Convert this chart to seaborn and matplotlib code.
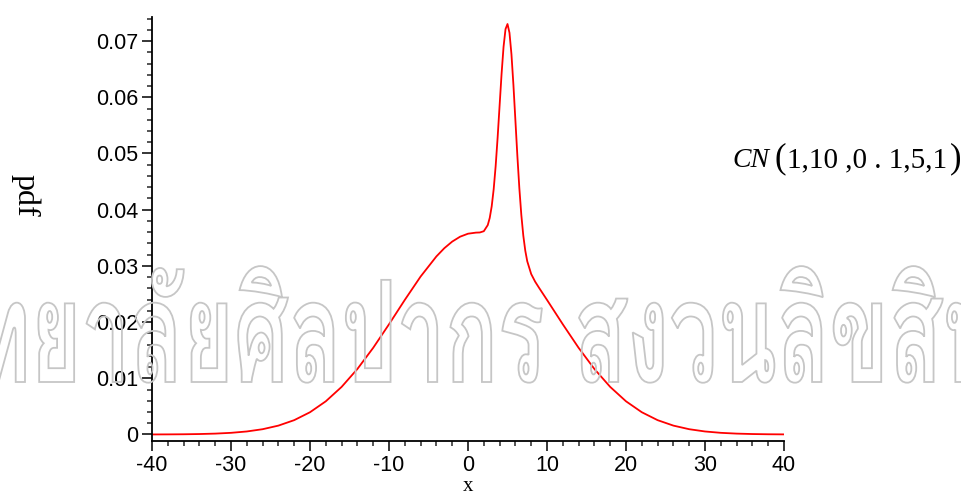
import matplotlib
matplotlib.use("Agg")
import matplotlib.pyplot as plt
import seaborn as sns
from matplotlib import font_manager
from matplotlib.textpath import TextPath
from matplotlib.patches import PathPatch
from matplotlib.transforms import Affine2D
from matplotlib.ticker import MultipleLocator, FuncFormatter

# Density of CN(1,10,0.1,5,1) sampled along x
x_vals = [-40, -38, -36, -34, -32, -30, -28, -26, -24, -22, -20, -18, -16, -14,
          -12, -10, -8, -6, -4, -3, -2, -1, 0, 1, 1.5, 2, 2.5, 2.75, 3, 3.25,
          3.5, 3.75, 4, 4.25, 4.5, 4.75, 5, 5.25, 5.5, 5.75, 6, 6.25, 6.5,
          6.75, 7, 7.25, 7.5, 8, 8.5, 9, 10, 12, 14, 16, 18, 20, 22, 24, 26,
          28, 30, 32, 34, 36, 38, 40]
pdf_vals = [0.000008, 0.000018, 0.000038, 0.000079, 0.000155, 0.000294,
            0.000536, 0.000938, 0.001578, 0.002550, 0.003959, 0.005905,
            0.008465, 0.011657, 0.015423, 0.019607, 0.023948, 0.028103,
            0.031686, 0.033145, 0.034325, 0.035194, 0.035726, 0.035918,
            0.035947, 0.036169, 0.037256, 0.038533, 0.040593, 0.043636,
            0.047752, 0.052838, 0.058522, 0.064172, 0.068979, 0.072134,
            0.073039, 0.071472, 0.067655, 0.062189, 0.055883, 0.049548,
            0.043817, 0.039062, 0.035390, 0.032709, 0.030820, 0.028546,
            0.027190, 0.026085, 0.023948, 0.019607, 0.015423, 0.011657,
            0.008465, 0.005905, 0.003959, 0.002550, 0.001578, 0.000938,
            0.000536, 0.000294, 0.000155, 0.000079, 0.000038, 0.000018]

x_ticks = [-40, -30, -20, -10, 0, 10, 20, 30, 40]
y_ticks = [0, 0.01, 0.02, 0.03, 0.04, 0.05, 0.06, 0.07]

label_text = "CN"
param_text = "1,10 ,0 . 1,5,1"
watermark_text = "ทยาลัยศิลปากร สงวนลิขสิท"

sns.set_style("ticks")
plt.rcParams["font.family"] = ["Liberation Sans", "DejaVu Sans"]
plt.rcParams["text.color"] = "black"

W, H = 962, 497
fig = plt.figure(figsize=(W / 100, H / 100), dpi=100)
ax = fig.add_axes([152 / W, 1 - 441 / H, (784 - 152) / W, (441 - 16.7) / H])

sns.lineplot(x=x_vals, y=pdf_vals, color="#ff0000", linewidth=1.3, ax=ax)

ax.set_xlim(-40, 40)
ax.set_ylim(-0.00116, 0.07434)
ax.set_xticks(x_ticks)
ax.set_yticks(y_ticks)
ax.xaxis.set_minor_locator(MultipleLocator(2))
ax.yaxis.set_minor_locator(MultipleLocator(0.002))
ax.xaxis.set_major_formatter(FuncFormatter(lambda v, p: f"{v:g}"))
ax.yaxis.set_major_formatter(FuncFormatter(lambda v, p: "0" if abs(v) < 1e-9 else f"{v:.2f}"))
ax.tick_params(which="major", length=7, width=1.1, direction="out",
               labelsize=15.5, pad=3, colors="black")
ax.tick_params(which="minor", length=3.5, width=1.1, direction="out")
for side in ("top", "right"):
    ax.spines[side].set_visible(False)
for side in ("left", "bottom"):
    ax.spines[side].set_linewidth(1.3)
    ax.spines[side].set_color("black")
ax.set_xlabel("")
ax.set_ylabel("")

serif = ["Liberation Serif", "DejaVu Serif"]
fig.text(25 / W, 1 - 195 / H, "pdf", rotation=270, ha="center", va="center",
         fontsize=23, family=serif, color="black")
fig.text(468 / W, 1 - 491 / H, "x", ha="center", va="baseline", fontsize=15,
         family=serif, color="black")

fig.text(732 / W, 1 - 167 / H, label_text, ha="left", va="baseline",
         fontsize=20, family=serif, style="italic", color="black")
fig.text(775 / W, 1 - 167 / H, "(", ha="left", va="baseline",
         fontsize=25, family=serif, color="black")
fig.text(787 / W, 1 - 167 / H, param_text, ha="left", va="baseline",
         fontsize=21, family=serif, color="black")
fig.text(961 / W, 1 - 167 / H, ")", ha="right", va="baseline",
         fontsize=25, family=serif, color="black")


def thai_font_path():
    try:
        from fontTools.ttLib import TTFont
    except Exception:
        return None
    for path in sorted(font_manager.findSystemFonts()):
        try:
            tt = TTFont(path, fontNumber=0, lazy=True)
            cmap = tt.getBestCmap() or {}
            if 0x0E17 in cmap and 0x0E31 in cmap and 0x0E25 in cmap:
                return path
        except Exception:
            continue
    return None


# Outlined watermark banner across the figure
tpath = thai_font_path()
if tpath is not None:
    fp = font_manager.FontProperties(fname=tpath)
    full = TextPath((0, 0), watermark_text, size=100, prop=fp)
    first = TextPath((0, 0), watermark_text[0], size=100, prop=fp)
    body = TextPath((0, 0), "น", size=100, prop=fp)
    fb = full.get_extents()
    b_first = first.get_extents()
    b_body = body.get_extents()
    sy = 80 / b_body.height
    # visible span: start of second glyph at 25 px, start of last glyph at 947 px
    last = TextPath((0, 0), watermark_text[-1], size=100, prop=fp)
    adv_first = b_first.x1
    span = fb.x1 - last.get_extents().width - adv_first
    sx = (947 - 25) / span
    x0 = 25 - adv_first * sx
    tr = Affine2D().scale(sx, sy).translate(x0, H - 382)
    patch = PathPatch(full, facecolor="none", edgecolor="#c6c6c6",
                      linewidth=1.3, transform=tr, zorder=5)
    fig.add_artist(patch)

fig.savefig("out.png", dpi=100, facecolor="white")
